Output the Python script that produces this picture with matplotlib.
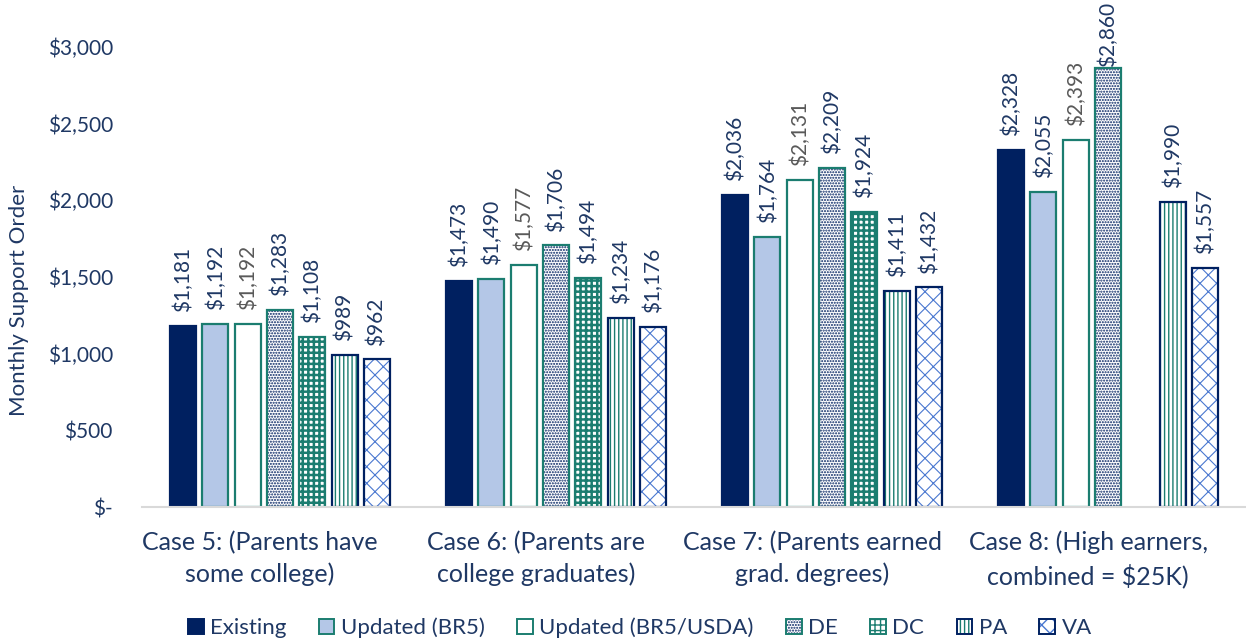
import matplotlib
matplotlib.use("Agg")
import matplotlib.pyplot as plt
from matplotlib.patches import Patch
from matplotlib.legend_handler import HandlerTuple
import numpy as np

categories = ["Case 5: (Parents have\nsome college)",
              "Case 6: (Parents are\ncollege graduates)",
              "Case 7: (Parents earned\ngrad. degrees)",
              "Case 8: (High earners,\ncombined = $25K)"]
series_names = ["Existing", "Updated (BR5)", "Updated (BR5/USDA)", "DE", "DC", "PA", "VA"]
existing = [1181, 1473, 2036, 2328]
br5 = [1192, 1490, 1764, 2055]
br5_usda = [1192, 1577, 2131, 2393]
de = [1283, 1706, 2209, 2860]
dc = [1108, 1494, 1924, None]
pa = [989, 1234, 1411, 1990]
va = [962, 1176, 1432, 1557]
series_values = [existing, br5, br5_usda, de, dc, pa, va]
yticks = [0, 500, 1000, 1500, 2000, 2500, 3000]
ytick_labels = ["$-", "$500", "$1,000", "$1,500", "$2,000", "$2,500", "$3,000"]

NAVY = "#002060"
LBLUE = "#B4C7E7"
TEAL = "#1B7D70"
TXT = "#1F3864"
GRAY = "#595959"
HBLUE = "#4A78D0"

styles = [
    dict(fc=NAVY, hatch=None, hc=None, ec=NAVY, hlw=1.0, lc=TXT),
    dict(fc=LBLUE, hatch=None, hc=None, ec=TEAL, hlw=1.0, lc=TXT),
    dict(fc="white", hatch=None, hc=None, ec=TEAL, hlw=1.0, lc=GRAY),
    dict(fc="white", hatch="......", hc=NAVY, ec=TEAL, hlw=1.0, lc=TXT),
    dict(fc="white", hatch="+++", hc=TEAL, ec=TEAL, hlw=1.8, lc=TXT),
    dict(fc="white", hatch="||||", hc=TEAL, ec=NAVY, hlw=1.0, lc=TXT),
    dict(fc="white", hatch="xx", hc=HBLUE, ec=NAVY, hlw=0.8, lc=TXT),
]

plt.rcParams['font.family'] = ['Lato', 'DejaVu Sans']

fig = plt.figure(figsize=(12.46, 6.41), dpi=100)
ax = fig.add_axes([142/1246, 134/641, 1 - 142/1246, (507-47)/641])

x = np.arange(len(categories))
pitch = 0.117
width = 0.094
shift = 0.072

labels = []
for i, (vals, st) in enumerate(zip(series_values, styles)):
    pos = x + shift + (i - 3) * pitch
    for xp, v in zip(pos, vals):
        if v is None:
            continue
        if st["hatch"]:
            with plt.rc_context({"hatch.linewidth": st["hlw"]}):
                ax.bar(xp, v, width, color=st["fc"], hatch=st["hatch"],
                       edgecolor=st["hc"], linewidth=0)
            ax.bar(xp, v, width, fill=False, edgecolor=st["ec"], linewidth=1.6)
        else:
            ax.bar(xp, v, width, color=st["fc"], edgecolor=st["ec"], linewidth=1.6)
        t = ax.annotate(f"${v:,.0f}", (xp, v), xytext=(0, 10), textcoords="offset points",
                        rotation=90, ha="center", va="bottom", fontsize=15,
                        color=st["lc"], annotation_clip=False)
        labels.append(t)

ax.set_ylim(0, 3000)
ax.set_xlim(-0.428, 3.572)
ax.set_yticks(yticks)
ax.set_yticklabels(ytick_labels, fontsize=15, color=TXT)
ax.set_xticks(x)
ax.set_xticklabels(categories, fontsize=18, color=TXT, linespacing=1.45)
ax.tick_params(axis="both", length=0)
ax.tick_params(axis="x", pad=17)
ax.tick_params(axis="y", pad=21)
for s in ["top", "right", "left"]:
    ax.spines[s].set_visible(False)
ax.spines["bottom"].set_color("#D9D9D9")
ax.spines["bottom"].set_linewidth(1.5)
ax.set_ylabel("Monthly Support Order", fontsize=16, color=TXT)
ax.yaxis.set_label_coords(-0.102, 0.45)

handles = []
for st in styles:
    if st["hatch"]:
        h1 = Patch(facecolor=st["fc"], hatch=st["hatch"], edgecolor=st["hc"], linewidth=0)
        h2 = Patch(fill=False, edgecolor=st["ec"], linewidth=1.4)
        handles.append((h1, h2))
    else:
        handles.append(Patch(facecolor=st["fc"], edgecolor=st["ec"], linewidth=1.4))

leg = fig.legend(handles, series_names, loc="center", bbox_to_anchor=(640/1246, 1 - 628/641),
                 ncol=7, frameon=False, fontsize=16, handlelength=0.7, handleheight=0.7,
                 handletextpad=0.3, columnspacing=1.45,
                 handler_map={tuple: HandlerTuple(ndivide=1)})
for t in leg.get_texts():
    t.set_color(TXT)

# keep labels inside the figure (labels that would overflow are pushed down, as in the source)
fig.canvas.draw()
r = fig.canvas.get_renderer()
H = fig.bbox.height
for t in labels:
    bb = t.get_window_extent(r)
    if bb.y1 > H - 2:
        dy_px = bb.y1 - (H - 2)
        ox, oy = t.xyann
        t.xyann = (ox, oy - dy_px * 72 / fig.dpi)

fig.savefig("out.png", dpi=100)
